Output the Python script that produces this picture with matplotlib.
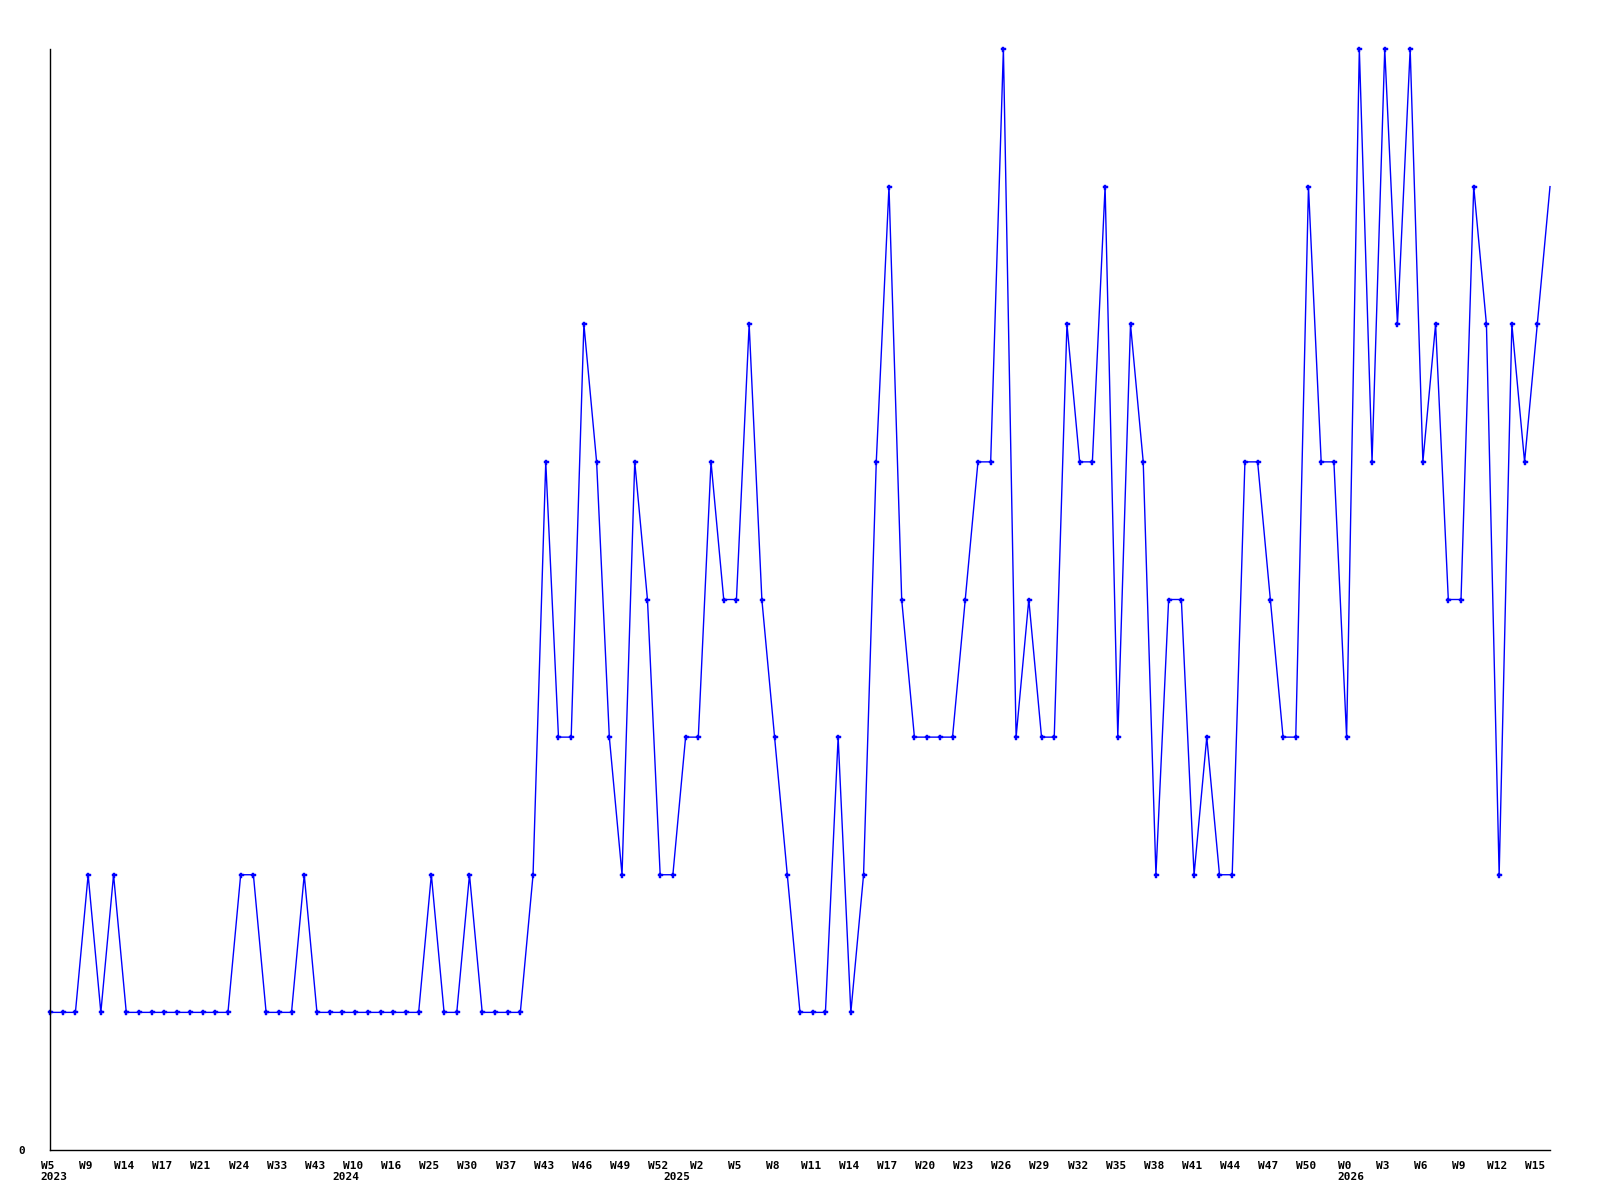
import matplotlib
matplotlib.use("Agg")
import matplotlib.pyplot as plt
import matplotlib.transforms as mtransforms

# weekly counts, one value per data point
values = [1, 1, 1, 2, 1, 2, 1, 1, 1, 1,
          1, 1, 1, 1, 1, 2, 2, 1, 1, 1,
          2, 1, 1, 1, 1, 1, 1, 1, 1, 1,
          2, 1, 1, 2, 1, 1, 1, 1, 2, 5,
          3, 3, 6, 5, 3, 2, 5, 4, 2, 2,
          3, 3, 5, 4, 4, 6, 4, 3, 2, 1,
          1, 1, 3, 1, 2, 5, 7, 4, 3, 3,
          3, 3, 4, 5, 5, 8, 3, 4, 3, 3,
          6, 5, 5, 7, 3, 6, 5, 2, 4, 4,
          2, 3, 2, 2, 5, 5, 4, 3, 3, 7,
          5, 5, 3, 8, 5, 8, 6, 8, 5, 6,
          4, 4, 7, 6, 2, 6, 5, 6, 7]

# labels shown on every third point
week_labels = ["W5", "W9", "W14", "W17", "W21", "W24", "W33", "W43", "W10", "W16",
               "W25", "W30", "W37", "W43", "W46", "W49", "W52", "W2", "W5", "W8",
               "W11", "W14", "W17", "W20", "W23", "W26", "W29", "W32", "W35", "W38",
               "W41", "W44", "W47", "W50", "W0", "W3", "W6", "W9", "W12", "W15"]
years = ["2023", "2024", "2025", "2026"]
year_idx = [0, 23, 49, 102]

x = list(range(len(values)))
mono = "DejaVu Sans Mono"

fig = plt.figure(figsize=(16, 12), dpi=100)
ax = fig.add_axes([50 / 1600, 1 - 1150 / 1200, 1500 / 1600, 1101 / 1200])

ax.plot(x, values, color="#0000ff", lw=1.0, marker="P", ms=3.6,
        markevery=list(range(len(values) - 1)), mec="#0000ff", mfc="#0000ff",
        mew=0.3, clip_on=False)

ax.set_xlim(0, len(values) - 1)
ax.set_ylim(0, 8)

ax.spines["top"].set_visible(False)
ax.spines["right"].set_visible(False)
for s in ("left", "bottom"):
    ax.spines[s].set_linewidth(1.0)
    ax.spines[s].set_color("black")

ticks = list(range(0, len(values), 3))
ax.set_xticks(ticks)
ax.set_xticklabels(week_labels, fontfamily=mono, fontweight="bold", fontsize=8)
ax.set_yticks([0])
ax.set_yticklabels(["0"], fontfamily=mono, fontweight="bold", fontsize=8)
ax.tick_params(axis="x", length=0, pad=8)
ax.tick_params(axis="y", length=0, pad=18)

# shift week labels slightly left like the original
off = mtransforms.ScaledTranslation(-2 / 100, 0, fig.dpi_scale_trans)
for lab in ax.get_xticklabels():
    lab.set_transform(lab.get_transform() + off)

trans = mtransforms.blended_transform_factory(ax.transData, ax.transAxes)
for yr, i in zip(years, year_idx):
    ax.text(i + 0.3, -27 / 1101, yr, transform=trans, ha="center", va="center",
            fontfamily=mono, fontweight="bold", fontsize=8)

fig.savefig("out.png", dpi=100, facecolor="white")
